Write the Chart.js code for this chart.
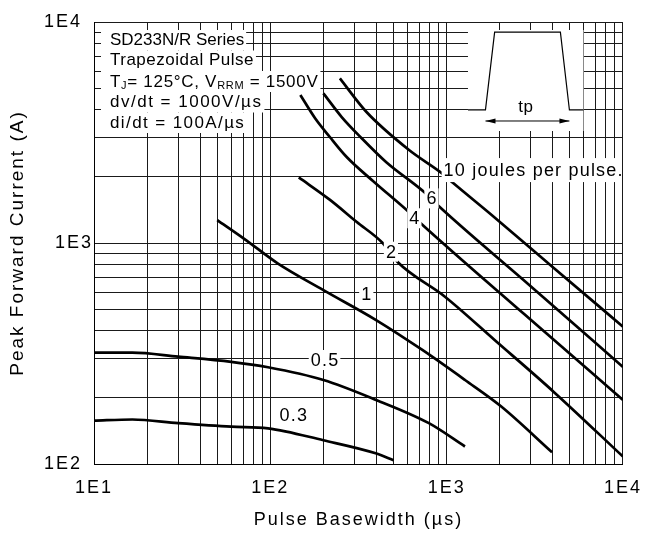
<!DOCTYPE html>
<html><head><meta charset="utf-8">
<script src="https://cdn.jsdelivr.net/npm/chart.js@4/dist/chart.umd.min.js"></script>
<style>html,body{margin:0;padding:0;background:#fff}canvas{display:block}</style>
</head><body>
<canvas id="c" width="652" height="543"></canvas>
<script>
// ---- axes / grid values ----
const xGridValues = [10,20,30,40,50,60,70,80,90,100,200,300,400,500,600,700,800,900,1000,2000,3000,4000,5000,6000,7000,8000,9000,10000];
const yGridValues = [100,200,300,400,500,600,700,800,900,1000,2000,3000,4000,5000,6000,7000,8000,9000,10000];
const xLabelValues = [10,100,1000,10000];
const xLabelText = ['1E1','1E2','1E3','1E4'];
const yLabelValues = [100,1000,10000];
const yLabelText = ['1E2','1E3','1E4'];

// ---- curves (energy per pulse) ----
const curveNames = ['0.3','0.5','1','2','4','6','10 joules per pulse.'];
const x_j03 = [10, 16.5, 30, 60, 97, 200, 400, 500];
const y_j03 = [157, 159, 153, 147.5, 145, 128, 111.5, 104];
const x_j05 = [10, 16.5, 30, 60, 97, 200, 398, 793, 1270];
const y_j05 = [319, 319, 306, 290, 274, 240, 195, 153, 120];
const x_j1  = [50, 71.4, 110, 200, 398, 728, 1270, 2040, 3960];
const y_j1  = [1270, 1042, 809, 612, 448, 328, 240, 182, 113];
const x_j2  = [145, 218, 308, 435, 527, 982, 1870, 4050, 10000];
const y_j2  = [1980, 1567, 1247, 997, 820, 570, 364, 212, 108];
const x_j4  = [148, 179, 217.5, 271, 382, 610, 697, 2750, 10000];
const y_j4  = [4674, 3678, 3017, 2449, 1908, 1381, 1249, 477, 195];
const x_j6  = [200, 254, 328.5, 453, 759, 863, 2940, 10000];
const y_j6  = [4755, 3715, 2987, 2326, 1679, 1517, 646, 275];
const x_j10 = [248, 350, 612, 942, 1089, 1800, 4050, 10000];
const y_j10 = [5559, 3926, 2635, 2065, 1868, 1339, 771, 418];
const curveX = [x_j03, x_j05, x_j1, x_j2, x_j4, x_j6, x_j10];
const curveY = [y_j03, y_j05, y_j1, y_j2, y_j4, y_j6, y_j10];

// ---- curve label anchors (data coords) ----
const labelAtX = [135, 203, 350, 483, 656, 820, 961];
const labelAtY = [166.7, 295.5, 587.6, 913, 1294, 1592, 2138];

// ---- text block ----
const infoLines = ['SD233N/R Series', 'Trapezoidal Pulse', null, 'dv/dt = 1000V/µs', 'di/dt = 100A/µs'];
const infoLine3 = [['T',0],['J',1],['= 125°C, V',0],['RRM',1],[' = 1500V',0]];
const insetText = 'tp';

const FONT = '"Liberation Sans", Arial, Helvetica, sans-serif';

const datasets = curveNames.map((n, i) => ({
  label: n,
  data: curveX[i].map((xv, k) => ({x: xv, y: curveY[i][k]})),
  borderColor: '#000', borderWidth: 2.7, pointRadius: 0, showLine: true, fill: false,
  cubicInterpolationMode: 'monotone'
}));

function setFont(ctx, size, ls){ ctx.font = size + 'px ' + FONT; ctx.letterSpacing = ls + 'px'; }

const decor = {
  id: 'decor',
  beforeDraw(chart){ chart.ctx.letterSpacing = '2px'; },
  beforeDatasetsDraw(chart){
    const {ctx, chartArea: a, scales: {x, y}} = chart;
    const X = v => x.getPixelForValue(v), Y = v => y.getPixelForValue(v);
    ctx.save();
    // info block
    const bounds = [8, 28.5, 49, 70, 90.5, 111];
    const centers = [18, 38.5, 60, 80.5, 101];
    const spacing = [0, 0.5, 0.7, 1.5, 1.4];
    const tx = a.left + 16;
    const widths = [];
    for (let i = 0; i < 5; i++) {
      let w = 0;
      if (infoLines[i] !== null) { setFont(ctx, 17, spacing[i]); w = ctx.measureText(infoLines[i]).width; }
      else { for (const [s, sub] of infoLine3) { setFont(ctx, sub ? 11 : 17, spacing[i]); w += ctx.measureText(s).width; } }
      widths.push(w);
    }
    ctx.fillStyle = '#fff';
    for (let i = 0; i < 5; i++) {
      ctx.fillRect(a.left + 7, a.top + bounds[i], tx + widths[i] + 2 - (a.left + 7), bounds[i+1] - bounds[i]);
    }
    ctx.fillStyle = '#000'; ctx.textBaseline = 'middle'; ctx.textAlign = 'left';
    for (let i = 0; i < 5; i++) {
      const cy = a.top + centers[i];
      if (infoLines[i] !== null) { setFont(ctx, 17, spacing[i]); ctx.fillText(infoLines[i], tx, cy); }
      else {
        let cx = tx;
        for (const [s, sub] of infoLine3) {
          setFont(ctx, sub ? 11 : 17, spacing[i]);
          ctx.fillText(s, cx, sub ? cy + 4 : cy);
          cx += ctx.measureText(s).width;
        }
      }
    }
    // inset pulse sketch
    const yb = Y(4000), yt = Y(9000);
    ctx.fillStyle = '#fff';
    ctx.fillRect(X(1321), a.top + 8, X(5970) - X(1321), 101);
    ctx.strokeStyle = '#000'; ctx.lineWidth = 1.2;
    ctx.beginPath();
    ctx.moveTo(X(1321), yb); ctx.lineTo(X(1660), yb); ctx.lineTo(X(1871), yt);
    ctx.lineTo(X(4416), yt); ctx.lineTo(X(4968), yb); ctx.lineTo(X(5970), yb);
    ctx.stroke();
    const ya = Y(3565), xl = X(1660), xr = X(4968);
    ctx.lineWidth = 1;
    ctx.beginPath(); ctx.moveTo(xl, ya); ctx.lineTo(xr, ya); ctx.stroke();
    ctx.fillStyle = '#000';
    ctx.beginPath(); ctx.moveTo(xl, ya); ctx.lineTo(xl + 10, ya - 2.5); ctx.lineTo(xl + 10, ya + 2.5); ctx.closePath(); ctx.fill();
    ctx.beginPath(); ctx.moveTo(xr, ya); ctx.lineTo(xr - 10, ya - 2.5); ctx.lineTo(xr - 10, ya + 2.5); ctx.closePath(); ctx.fill();
    setFont(ctx, 17, 0.5); ctx.textAlign = 'center'; ctx.textBaseline = 'middle';
    ctx.fillText(insetText, X(2812), Y(4121));
    ctx.restore();
  },
  afterDatasetsDraw(chart){
    const {ctx, chartArea: a, scales: {x, y}} = chart;
    ctx.save();
    setFont(ctx, 18, 1.2);
    ctx.textBaseline = 'middle';
    curveNames.forEach((n, i) => {
      const px = x.getPixelForValue(labelAtX[i]), py = y.getPixelForValue(labelAtY[i]);
      const w = ctx.measureText(n).width;
      const last = i === curveNames.length - 1;
      const left = last ? px - 2 : px - w / 2 - 1.5;
      const right = last ? a.right - 1 : px + w / 2 + 1.5;
      const h = last ? 24 : 20;
      ctx.fillStyle = '#fff';
      ctx.fillRect(left, py - h / 2, right - left, h);
      ctx.fillStyle = '#000';
      ctx.textAlign = last ? 'left' : 'center';
      ctx.fillText(n, last ? px : px + 0.6, py + 1);
    });
    ctx.restore();
  }
};

new Chart(document.getElementById('c').getContext('2d'), {
  type: 'scatter',
  data: {datasets},
  options: {
    responsive: false, animation: false, devicePixelRatio: 1,
    layout: {padding: {top: 22, right: 22, left: 0, bottom: 0}},
    plugins: {legend: {display: false}, tooltip: {enabled: false}},
    scales: {
      x: {
        type: 'logarithmic', min: 10, max: 10000, position: 'bottom',
        afterBuildTicks: s => { s.ticks = xGridValues.map(v => ({value: v})); },
        afterFit: s => { s.height = 79; },
        grid: {color: '#1a1a1a', lineWidth: 1, drawTicks: false},
        border: {color: '#000', width: 1},
        ticks: {autoSkip: false, maxRotation: 0, minRotation: 0, padding: 13, color: '#000',
          font: {family: FONT, size: 18},
          callback: v => { const k = xLabelValues.indexOf(v); return k < 0 ? '' : xLabelText[k]; }},
        title: {display: true, text: 'Pulse Basewidth (µs)', color: '#000',
          font: {family: FONT, size: 18, lineHeight: 1.2}, padding: {top: 0, bottom: 12}}
      },
      y: {
        type: 'logarithmic', min: 100, max: 10000, position: 'left',
        afterBuildTicks: s => { s.ticks = yGridValues.map(v => ({value: v})); },
        afterFit: s => { s.width = 94; },
        grid: {color: '#1a1a1a', lineWidth: 1, drawTicks: false},
        border: {color: '#000', width: 1},
        ticks: {autoSkip: false, padding: 1, color: '#000',
          font: {family: FONT, size: 18},
          callback: v => { const k = yLabelValues.indexOf(v); if (k < 0) return ''; return yLabelText[k] + (v === 1000 ? '' : '\u2002'); }},
        title: {display: true, text: 'Peak Forward Current (A)', color: '#000',
          font: {family: FONT, size: 19, lineHeight: 1.2}, padding: {top: 6, bottom: 0}}
      }
    }
  },
  plugins: [decor]
});
</script>
</body></html>
